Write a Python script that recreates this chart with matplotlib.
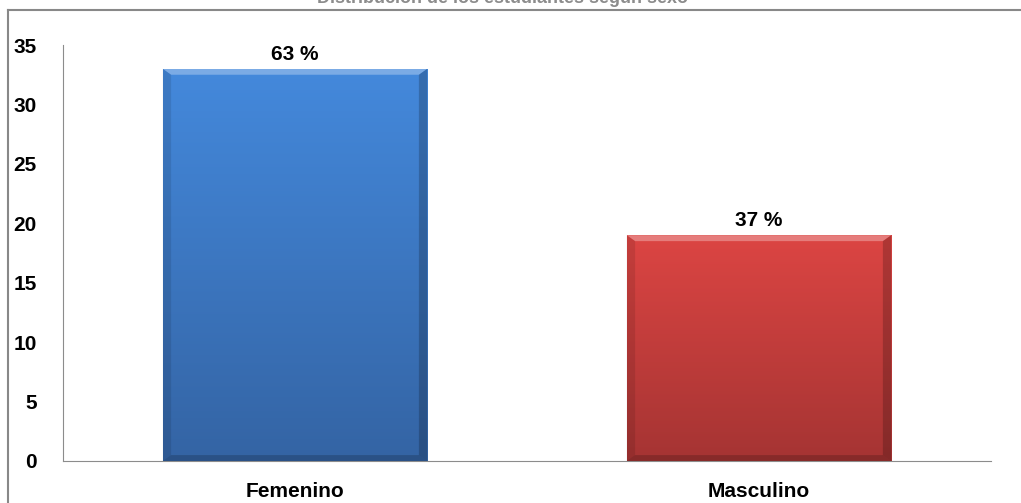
import numpy as np
import matplotlib
matplotlib.use("Agg")
import matplotlib.pyplot as plt
from matplotlib.colors import LinearSegmentedColormap
from matplotlib.lines import Line2D
from matplotlib.patches import Polygon

plt.rcParams["font.family"] = ["Liberation Sans", "DejaVu Sans"]

# datos
categorias = ["Femenino", "Masculino"]
cantidades = [33, 19]
porcentajes = ["63 %", "37 %"]
titulo = "Distribución de los estudiantes según sexo"

colores_top = ["#4489dc", "#dc4543"]
colores_bottom = ["#3464a4", "#a53433"]

fig = plt.figure(figsize=(10.21, 5.03), dpi=100)
ax = fig.add_axes([0.0617, 0.0835, 0.9089, 0.827])

x = np.arange(len(categorias))
ancho = 0.57
barras = ax.bar(x, cantidades, width=ancho, color=colores_top, zorder=2)

# relleno degradado + bisel en cada barra
grad = np.linspace(0, 1, 256).reshape(-1, 1)
for b, c1, c2 in zip(barras, colores_top, colores_bottom):
    x0, y0 = b.get_x(), b.get_y()
    w, h = b.get_width(), b.get_height()
    cmap = LinearSegmentedColormap.from_list("g", [c2, c1])
    im = ax.imshow(grad, extent=[x0, x0 + w, y0, y0 + h], origin="lower",
                   cmap=cmap, aspect="auto", zorder=3)
    im.set_clip_path(b)
    # bisel: franja clara arriba, lados oscuros
    dx = 0.018
    dy = 0.5
    ax.add_patch(Polygon([[x0, y0 + h], [x0 + w, y0 + h], [x0 + w - dx, y0 + h - dy],
                          [x0 + dx, y0 + h - dy]], closed=True,
                         facecolor="white", alpha=0.3, lw=0, zorder=4))
    ax.add_patch(Polygon([[x0, y0], [x0, y0 + h], [x0 + dx, y0 + h - dy], [x0 + dx, y0 + dy]],
                         closed=True, facecolor="black", alpha=0.1, lw=0, zorder=4))
    ax.add_patch(Polygon([[x0 + w, y0], [x0 + w, y0 + h], [x0 + w - dx, y0 + h - dy],
                          [x0 + w - dx, y0 + dy]], closed=True,
                         facecolor="black", alpha=0.2, lw=0, zorder=4))
    ax.add_patch(Polygon([[x0, y0], [x0 + w, y0], [x0 + w - dx, y0 + dy], [x0 + dx, y0 + dy]],
                         closed=True, facecolor="black", alpha=0.18, lw=0, zorder=4))

for xi, v, p in zip(x, cantidades, porcentajes):
    ax.text(xi, v + 0.4, p, ha="center", va="bottom", fontsize=15,
            fontweight="bold", zorder=5)

ax.set_xlim(-0.5, 1.5)
ax.set_ylim(0, 35)
ax.set_yticks(range(0, 36, 5))
ax.set_xticks(x)
ax.set_xticklabels(categorias)
ax.tick_params(axis="both", length=0, labelsize=15)
ax.tick_params(axis="y", pad=19)
ax.tick_params(axis="x", pad=15)
for lbl in ax.get_xticklabels() + ax.get_yticklabels():
    lbl.set_fontweight("bold")
ax.spines["top"].set_visible(False)
ax.spines["right"].set_visible(False)
ax.spines["left"].set_color("#8c8c8c")
ax.spines["bottom"].set_color("#8c8c8c")

# marco del gráfico
fig.add_artist(Line2D([0.0078, 1.0], [0.98, 0.98], color="#888888", lw=1.5))
fig.add_artist(Line2D([0.0078, 0.0078], [0.0, 0.98], color="#888888", lw=1.5))

# título (queda recortado por el borde superior)
fig.text(0.492, 0.995, titulo, ha="center", va="baseline", fontsize=13,
         fontweight="bold", color="#8c8c8c")

fig.savefig("out.png", dpi=100)
